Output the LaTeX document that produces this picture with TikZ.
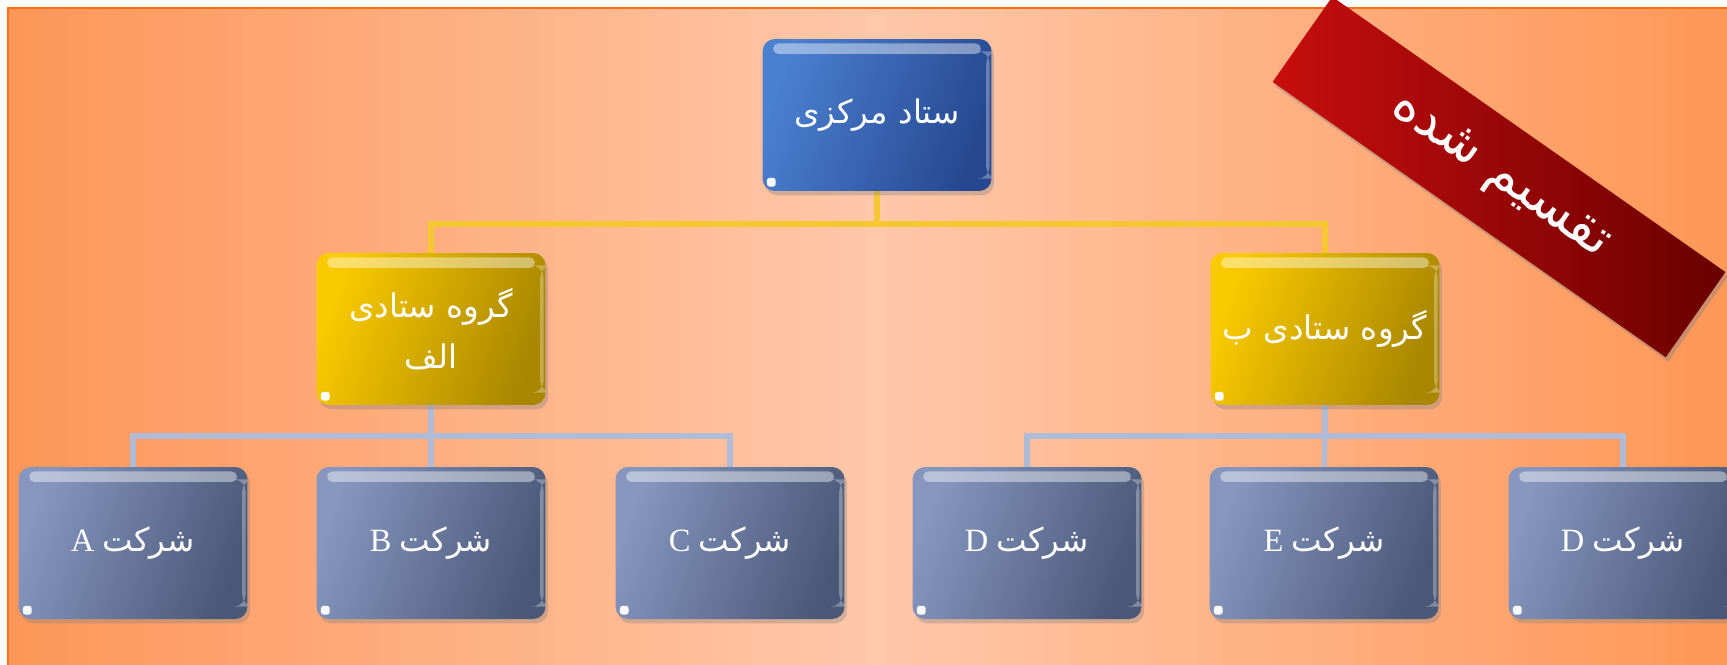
\documentclass[tikz,border=0pt]{standalone}
\usepackage{fontspec}
\setmainfont{Liberation Serif}
\newfontfamily\ar[Script=Arabic]{DejaVu Sans}
\TeXXeTstate=1
\usetikzlibrary{shadows,calc}
\pgfdeclarelayer{back}
\pgfdeclarelayer{bg}
\pgfsetlayers{back,bg,main}
\definecolor{bgL}{RGB}{253,150,88}
\definecolor{bgM}{RGB}{255,200,170}
\definecolor{bgR}{RGB}{255,150,85}
\definecolor{bord}{RGB}{255,110,20}
\definecolor{ylink}{RGB}{245,200,50}
\definecolor{blink}{RGB}{175,187,215}
\definecolor{grayL}{RGB}{134,150,190}
\definecolor{grayD}{RGB}{74,88,120}
\definecolor{blueL}{RGB}{75,128,208}
\definecolor{blueD}{RGB}{38,72,145}
\definecolor{yelL}{RGB}{250,202,0}
\definecolor{yelD}{RGB}{168,134,0}
\definecolor{redL}{RGB}{200,14,14}
\definecolor{redD}{RGB}{105,0,0}
\tikzset{
  gloss/.style={path picture={
    \fill[white,opacity=0.42,rounded corners=3pt]
      ($(path picture bounding box.north west)+(6pt,-2.5pt)$) rectangle
      ($(path picture bounding box.north east)+(-6pt,-8.5pt)$);
    \fill[white,opacity=0.3]
      ($(path picture bounding box.north east)+(-3pt,-7pt)$) rectangle
      ($(path picture bounding box.south east)+(-1pt,7pt)$);
    \fill[white,opacity=0.95,rounded corners=1.5pt]
      ($(path picture bounding box.south west)+(2.5pt,2.5pt)$) rectangle ++(5pt,5pt);
  }},
  orgbox/.style={rounded corners=7pt, minimum width=4.58cm, minimum height=3.04cm,
    inner sep=2pt, text=white, align=center, font=\fontsize{18.5}{29}\selectfont,
    drop shadow={opacity=0.35,shadow xshift=1.5pt,shadow yshift=-2.5pt}, gloss},
  graybox/.style={orgbox, left color=grayL, right color=grayD, shading angle=70},
  bluebox/.style={orgbox, left color=blueL, right color=blueD, shading angle=70},
  yelbox/.style={orgbox, left color=yelL, right color=yelD, shading angle=70},
  yline/.style={draw=ylink, line width=3pt},
  bline/.style={draw=blink, line width=3pt},
  banner/.style={minimum width=9.6cm, minimum height=2.08cm, inner sep=0pt,
    left color=redL, right color=redD, text=white,
    font=\fontsize{30}{36}\selectfont,
    drop shadow={opacity=0.4,shadow xshift=1.5pt,shadow yshift=-2.5pt}},
}
\begin{document}
\begin{tikzpicture}[x=0.02cm,y=-0.02cm]
\useasboundingbox (0,0) rectangle (1727,664);
\clip (0,0) rectangle (1727,664);
\begin{pgfonlayer}{back}
  \shade[left color=bgL, right color=bgR, middle color=bgM] (8,8) rectangle (1745,680);
  \draw[bord, line width=1.3pt] (8,680) -- (8,8) -- (1745,8);
\end{pgfonlayer}

\node[bluebox] (top) at (877,115) {\ar\beginR ستاد مرکزی\endR};
\node[yelbox] (ga) at (431,329) {\ar\beginR گروه ستادی\endR\\ \ar\beginR الف\endR};
\node[yelbox] (gb) at (1325,329) {\ar\beginR گروه ستادی ب\endR};

\node[graybox] (ca) at (133,543) {\beginR{\ar شرکت} A\endR};
\node[graybox] (cb) at (431,543) {\beginR{\ar شرکت} B\endR};
\node[graybox] (cc) at (730,543) {\beginR{\ar شرکت} C\endR};
\node[graybox] (cd) at (1027,543) {\beginR{\ar شرکت} D\endR};
\node[graybox] (ce) at (1324,543) {\beginR{\ar شرکت} E\endR};
\node[graybox] (cf) at (1623,543) {\beginR{\ar شرکت} D\endR};

\coordinate (j1) at (877,224);
\coordinate (j2) at (431,436);
\coordinate (j3) at (1325,436);
\begin{pgfonlayer}{bg}
  \draw[yline] (top.south) -- (j1) -| (ga.north);
  \draw[yline] (j1) -| (gb.north);
  \draw[bline] (ga.south) -- (j2) -| (ca.north);
  \draw[bline] (j2) -- (cb.north);
  \draw[bline] (j2) -| (cc.north);
  \draw[bline] (gb.south) -- (j3) -| (cd.north);
  \draw[bline] (j3) -- (ce.north);
  \draw[bline] (j3) -| (cf.north);
\end{pgfonlayer}

\node[banner, rotate=-35] (ban) at (1499,177) {\ar\beginR تقسیم شده\endR};
\end{tikzpicture}
\end{document}
